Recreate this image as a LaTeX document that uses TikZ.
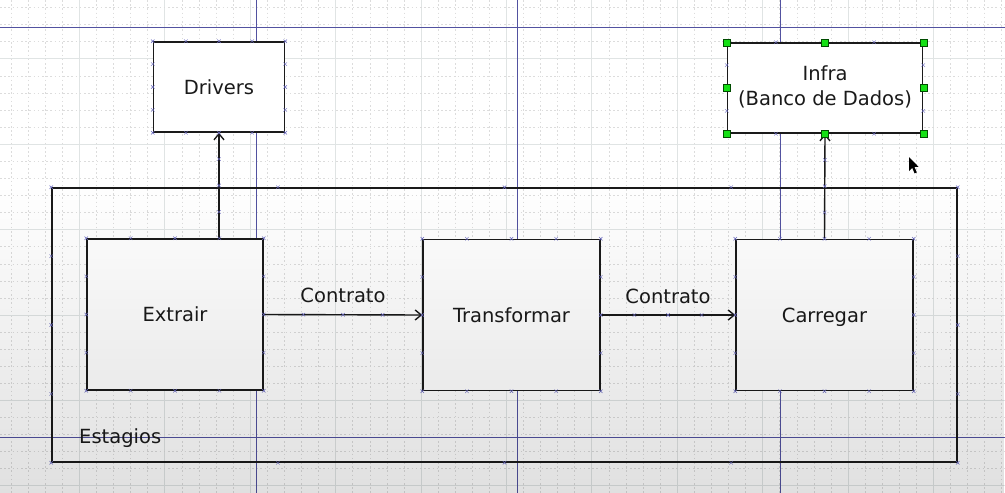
\documentclass[tikz,border=0pt]{standalone}
\usepackage{fontspec}
\setmainfont{DejaVu Sans}
\usetikzlibrary{arrows.meta,fadings,calc}
\tikzfading[name=bgfade, top color=transparent!100, bottom color=transparent!0]
\definecolor{guide}{HTML}{5252A0}
\definecolor{majorgrid}{HTML}{E0E4E4}
\definecolor{minorgrid}{HTML}{DCDCDC}
\definecolor{cpt}{HTML}{6A6AC0}
\definecolor{handle}{HTML}{14E014}
\definecolor{ink}{HTML}{1A1A1A}
\newcommand\cpmark[1]{\draw[cpt,line width=0.5pt] (#1) +(-1.7,-1.7) -- +(1.7,1.7) (#1) +(-1.7,1.7) -- +(1.7,-1.7);}
\begin{document}
\begin{tikzpicture}[x=1pt,y=-1pt,
  box/.style={draw=ink, line width=1.5pt, fill=white, inner sep=0pt},
  lbl/.style={font=\fontsize{19.5}{25}\selectfont, text=ink, text height=14pt, text depth=0pt, inner sep=0pt},
  conn/.style={draw=ink, line width=1.4pt, -{Straight Barb[length=6pt,width=10pt,line width=1.4pt]}},
  minorln/.style={draw=minorgrid, line width=0.7pt, dash pattern=on 1.6pt off 2.6pt},
  majorln/.style={draw=majorgrid, line width=0.9pt},
  guideln/.style={draw=guide, line width=1pt},
  hnd/.style={draw=black!70!green, line width=0.5pt, fill=handle, minimum size=7pt, inner sep=0pt}]
\fill[white] (0,0) rectangle (1005,493);
\useasboundingbox (0,0) rectangle (1005,493);
% grid
\foreach \i in {0,...,58} {
  \pgfmathtruncatemacro\m{mod(\i+1,5)}
  \ifnum\m=0 \draw[majorln] ({11.18+\i*17.08},0) -- ({11.18+\i*17.08},493);
  \else \draw[minorln] ({11.18+\i*17.08},0) -- ({11.18+\i*17.08},493); \fi
}
\foreach \j in {0,...,28} {
  \pgfmathtruncatemacro\m{mod(\j+2,5)}
  \ifnum\m=0 \draw[majorln] (0,{7.66+\j*17.08}) -- (1005,{7.66+\j*17.08});
  \else \draw[minorln] (0,{7.66+\j*17.08}) -- (1005,{7.66+\j*17.08}); \fi
}
% guide lines
\draw[guideln] (0,27) -- (1005,27);
\draw[guideln] (0,437) -- (1005,437);
\draw[guideln] (256,0) -- (256,493);
\draw[guideln] (517,0) -- (517,493);
\draw[guideln] (780,0) -- (780,493);
% frame
\node[draw=ink, line width=1.5pt, minimum width=905pt, minimum height=274pt, inner sep=0pt] (frame) at (504.5,325) {};
\node[lbl, anchor=west] (estagios) at (79,436) {Estagios};
% boxes
\node[box, minimum width=131pt, minimum height=90pt] (Drivers) at (219,87) {};
\node[lbl] at (Drivers) {Drivers};
\node[box, minimum width=195pt, minimum height=90pt] (Infra) at (825,88) {};
\node[lbl, align=center, text height=, text depth=] at ([yshift=1pt]Infra.center) {Infra\\(Banco de Dados)};
\node[box, minimum width=176pt, minimum height=151pt] (Extrair) at (175,314.5) {};
\node[lbl] at (Extrair) {Extrair};
\node[box, minimum width=177pt, minimum height=151pt] (Transformar) at (511.5,315) {};
\node[lbl] at (Transformar.center) {Transformar};
\node[box, minimum width=177pt, minimum height=151pt] (Carregar) at (824.5,315) {};
\node[lbl] at (Carregar) {Carregar};
% connectors
\coordinate (eTop) at (Drivers.south |- Extrair.north);
\draw[conn] (eTop) -- (Drivers.south);
\draw[conn] (Carregar.north) -- (Infra.south);
\draw[conn] (Extrair.east) -- node[lbl, above=12pt] (c1) {Contrato} (Transformar.west);
\draw[conn] (Transformar.east) -- node[lbl, above=11pt] (c2) {Contrato} (Carregar.west);
% connection point marks
\foreach \n in {Drivers,Infra,Extrair,Transformar,Carregar,frame} {
  \foreach \f in {0,0.25,0.5,0.75,1} {
    \cpmark{$(\n.north west)!\f!(\n.north east)$}
    \cpmark{$(\n.south west)!\f!(\n.south east)$}
  }
  \foreach \f in {0.25,0.5,0.75} {
    \cpmark{$(\n.north west)!\f!(\n.south west)$}
    \cpmark{$(\n.north east)!\f!(\n.south east)$}
  }
}
\foreach \f in {0.25,0.5,0.75} {
  \cpmark{$(eTop)!\f!(Drivers.south)$}
  \cpmark{$(Carregar.north)!\f!(Infra.south)$}
  \cpmark{$(Extrair.east)!\f!(Transformar.west)$}
  \cpmark{$(Transformar.east)!\f!(Carregar.west)$}
}
% video gradient overlay
\fill[black, fill opacity=0.12, path fading=bgfade] (0,185) rectangle (1005,493);
% selection handles
\foreach \a in {north west,north,north east,west,east,south west,south,south east} {
  \node[hnd] at (Infra.\a) {};
}
% mouse cursor
\fill[black] (909,157) -- (909,171) -- (912.2,167.8) -- (914.6,173.4) -- (916.8,172.4) -- (914.4,166.9) -- (918.6,166.9) -- cycle;
\end{tikzpicture}
\end{document}
